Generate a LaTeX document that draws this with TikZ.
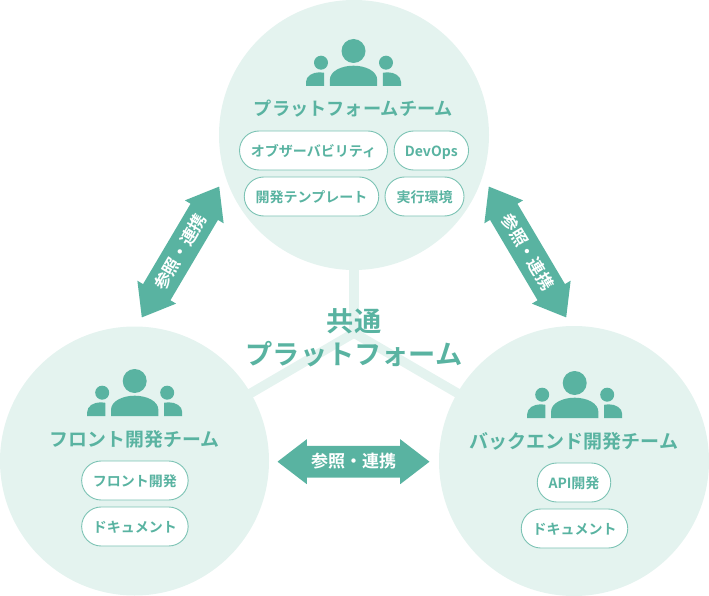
\documentclass[tikz,border=0pt]{standalone}
\usepackage{fontspec}
\setmainfont{Noto Sans CJK JP}[BoldFont={Noto Sans CJK JP Bold}]
\usetikzlibrary{shapes.arrows}
\definecolor{teal}{HTML}{59B3A1}
\definecolor{pale}{HTML}{E4F3EF}
\definecolor{pillline}{HTML}{7CC3B4}
\tikzset{
  team/.style={circle,fill=pale,draw=none,inner sep=0pt,minimum size=#1},
  bar/.style={draw=pale,line width=9.5pt},
  title/.style={text=teal,font=\bfseries\fontsize{#1}{#1}\selectfont,inner sep=0pt},
  pill/.style={draw=pillline,line width=0.9pt,fill=white,rounded corners=19.5pt,minimum height=39pt,
    inner sep=0pt,text=teal,text height=14pt,text depth=1.4pt,font=\bfseries\fontsize{14}{14}\selectfont},
  link/.style={double arrow,fill=teal,draw=none,inner xsep=0pt,inner ysep=7.2pt,text=white,
    text height=14.7pt,text depth=2.3pt,
    font=\bfseries\fontsize{17}{17}\selectfont,
    minimum height=152pt,minimum width=44.6pt,
    double arrow head extend=6.6pt,double arrow tip angle=75,double arrow head indent=0pt},
  shared/.style={text=teal,font=\bfseries\fontsize{27.2}{33}\selectfont,align=center,inner sep=0pt},
  people/.pic={
    \fill[teal] (0,-35) circle[radius=12pt];
    \fill[teal] (-32.5,-23.3) circle[radius=7pt];
    \fill[teal] (32.5,-23.3) circle[radius=7pt];
    \fill[teal] (-23.7,0) -- (-23.7,-6) .. controls (-23.7,-15) and (-12,-20.3) .. (0,-20.3)
      .. controls (12,-20.3) and (23.7,-15) .. (23.7,-6) -- (23.7,0) -- cycle;
    \fill[teal] (-47.5,0) -- (-47.5,-4) .. controls (-47.5,-10) and (-41,-13.7) .. (-34,-13.7)
      -- (-29.3,-13.2) -- (-29.3,0) -- cycle;
    \fill[teal] (47.5,0) -- (47.5,-4) .. controls (47.5,-10) and (41,-13.7) .. (34,-13.7)
      -- (29.3,-13.2) -- (29.3,0) -- cycle;
  }
}
\begin{document}
\begin{tikzpicture}[x=1pt,y=-1pt]
\useasboundingbox (0,0) rectangle (709,596);
% team circles
\node[team=270pt] (top) at (354,135) {};
\node[team=269pt] (left) at (134.5,461) {};
\node[team=270pt] (right) at (574,461) {};
% shared platform connectors
\coordinate (hub) at (354,333);
\draw[bar] (top.center) -- (hub);
\draw[bar] (left.center) -- (hub);
\draw[bar] (right.center) -- (hub);
\node[shared] (platform) at (354,338) {共通\\プラットフォーム};
% icons
\pic at (353.5,86) {people};
\pic at (134.7,416) {people};
\pic at (574.7,418) {people};
% titles
\node[title=18.2] (ttop) at (353.5,108.5) {プラットフォームチーム};
\node[title=18.9] (tleft) at (134.5,439.5) {フロント開発チーム};
\node[title=19] (tright) at (574,441.5) {バックエンド開発チーム};
% pills
\node[pill,minimum width=148pt] (p1) at (313.5,150.5) {オブザーバビリティ};
\node[pill,minimum width=74.5pt] (p2) at (431.3,150.5) {DevOps};
\node[pill,minimum width=134.5pt] (p3) at (311.5,196.5) {開発テンプレート};
\node[pill,minimum width=79pt] (p4) at (424.5,196.5) {実行環境};
\node[pill,minimum width=106.5pt] (l1) at (134.9,480.5) {フロント開発};
\node[pill,minimum width=106.5pt] (l2) at (134.9,526.5) {ドキュメント};
\node[pill,minimum width=73.5pt] (r1) at (574,482.5) {API開発};
\node[pill,minimum width=106.5pt] (r2) at (574.5,528.5) {ドキュメント};
% reference arrows
\node[link,rotate=59.4] (aleft) at (180.5,252) {参照・連携};
\node[link,rotate=-59.4] (aright) at (527.5,252) {参照・連携};
\node[link] (abottom) at (353.5,461.7) {参照・連携};
\end{tikzpicture}
\end{document}
